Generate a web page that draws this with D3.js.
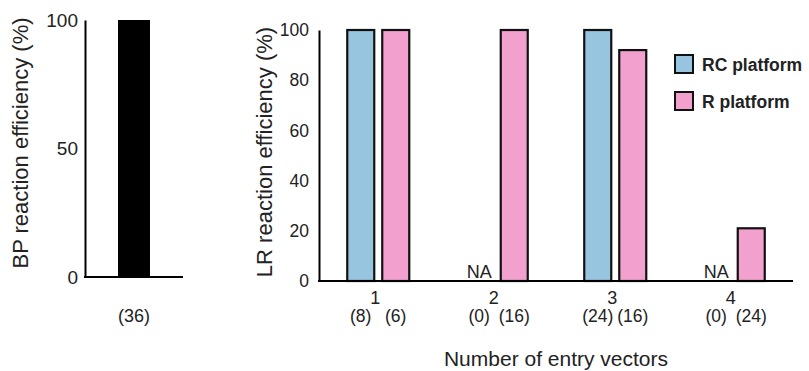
<!DOCTYPE html>
<html>
<head>
<meta charset="utf-8">
<script src="https://cdn.jsdelivr.net/npm/d3@7"></script>
<style>
  html, body { margin: 0; padding: 0; background: #fff; }
  svg { display: block; font-family: "Liberation Sans", Arial, sans-serif; }
</style>
</head>
<body>
<svg id="chart" width="809" height="371"></svg>
<script>
// ---- data ----
const bpCategories = ["BP"];
const bpValues = [100];
const bpCounts = ["(36)"];
const bpTicks = [0, 50, 100];

const lrCategories = ["1", "2", "3", "4"];
const seriesNames = ["RC platform", "R platform"];
const rcValues = [100, null, 100, null];
const rValues = [100, 100, 92, 21];
const rcCounts = ["(8)", "(0)", "(24)", "(0)"];
const rCounts = ["(6)", "(16)", "(16)", "(24)"];
const lrTicks = [0, 20, 40, 60, 80, 100];
const colors = ["#97c5df", "#f2a1cf"];

const FONT = "Liberation Sans, Arial, sans-serif";
const svg = d3.select("#chart");

// ---- left panel (BP) ----
const yL = d3.scaleLinear().domain([0, 100]).range([277, 20]);
const xL = d3.scaleBand().domain(bpCategories).range([85, 183]).paddingInner(0.508).paddingOuter(0.508);
const left = svg.append("g");

left.selectAll("rect.bp").data(bpValues).join("rect")
  .attr("x", (d, i) => xL(bpCategories[i]))
  .attr("width", xL.bandwidth())
  .attr("y", d => yL(d))
  .attr("height", d => yL(0) - yL(d))
  .attr("fill", "#000");

const yAxisL = d3.axisLeft(yL).tickValues(bpTicks).tickSize(0).tickPadding(7);
const gyL = left.append("g").attr("transform", "translate(85,0)").call(yAxisL);
gyL.select(".domain").attr("stroke", "#000").attr("stroke-width", 2);
gyL.selectAll("text").attr("font-size", 19).attr("fill", "#222").attr("font-family", FONT);

left.append("line").attr("x1", 84).attr("x2", 183).attr("y1", yL(0)).attr("y2", yL(0))
  .attr("stroke", "#000").attr("stroke-width", 2);

left.selectAll("text.cnt").data(bpCounts).join("text")
  .attr("class", "cnt")
  .attr("x", (d, i) => xL(bpCategories[i]) + xL.bandwidth() / 2)
  .attr("y", 322)
  .attr("text-anchor", "middle").attr("font-size", 18).attr("fill", "#222")
  .text(d => d);

left.append("text")
  .attr("transform", "translate(28,143) rotate(-90)")
  .attr("text-anchor", "middle").attr("font-size", 22).attr("fill", "#222")
  .text("BP reaction efficiency (%)");

// ---- right panel (LR) ----
const yR = d3.scaleLinear().domain([0, 100]).range([281, 30]);
const x0 = d3.scaleBand().domain(lrCategories).range([319, 793]).padding(0);
const x1 = d3.scaleBand().domain(seriesNames).range([0, x0.bandwidth()]).paddingInner(0.2286).paddingOuter(0.807);
const right = svg.append("g");

const rows = lrCategories.map((c, i) => ({
  cat: c,
  vals: [
    { s: seriesNames[0], v: rcValues[i], n: rcCounts[i], c: colors[0] },
    { s: seriesNames[1], v: rValues[i], n: rCounts[i], c: colors[1] }
  ]
}));

const groups = right.selectAll("g.grp").data(rows).join("g")
  .attr("class", "grp")
  .attr("transform", d => `translate(${x0(d.cat)},0)`);

groups.selectAll("rect").data(d => d.vals.filter(v => v.v !== null)).join("rect")
  .attr("x", d => x1(d.s))
  .attr("width", x1.bandwidth())
  .attr("y", d => yR(d.v))
  .attr("height", d => yR(0) - yR(d.v))
  .attr("fill", d => d.c)
  .attr("stroke", "#111").attr("stroke-width", 2.2);

groups.selectAll("text.na").data(d => d.vals.filter(v => v.v === null)).join("text")
  .attr("class", "na")
  .attr("x", d => x1(d.s) + x1.bandwidth() / 2)
  .attr("y", 278)
  .attr("text-anchor", "middle").attr("font-size", 18).attr("fill", "#222")
  .text("NA");

groups.selectAll("text.cnt").data(d => d.vals).join("text")
  .attr("class", "cnt")
  .attr("x", d => x1(d.s) + x1.bandwidth() / 2)
  .attr("y", 322)
  .attr("text-anchor", "middle").attr("font-size", 17.5).attr("fill", "#222")
  .text(d => d.n);

const yAxisR = d3.axisLeft(yR).tickValues(lrTicks).tickSize(0).tickPadding(10);
const gyR = right.append("g").attr("transform", "translate(319,0)").call(yAxisR);
gyR.select(".domain").attr("stroke", "#000").attr("stroke-width", 2);
gyR.selectAll("text").attr("font-size", 17.5).attr("fill", "#222").attr("font-family", FONT);

const xAxisR = d3.axisBottom(x0).tickSize(0).tickPadding(10);
const gxR = right.append("g").attr("transform", `translate(0,${yR(0)})`).call(xAxisR);
gxR.select(".domain").remove();
gxR.selectAll("text").attr("font-size", 18).attr("fill", "#222").attr("font-family", FONT)
  .attr("dx", -3);
right.append("line").attr("x1", 318).attr("x2", 793).attr("y1", yR(0)).attr("y2", yR(0))
  .attr("stroke", "#000").attr("stroke-width", 2);

right.append("text")
  .attr("transform", "translate(272,152) rotate(-90)")
  .attr("text-anchor", "middle").attr("font-size", 22).attr("fill", "#222")
  .text("LR reaction efficiency (%)");

right.append("text")
  .attr("x", 556).attr("y", 366)
  .attr("text-anchor", "middle").attr("font-size", 21).attr("fill", "#222")
  .text("Number of entry vectors");

// legend
const legend = right.selectAll("g.leg").data(seriesNames).join("g")
  .attr("class", "leg")
  .attr("transform", (d, i) => `translate(675,${55 + i * 37})`);
legend.append("rect").attr("width", 18).attr("height", 18)
  .attr("fill", (d, i) => colors[i]).attr("stroke", "#111").attr("stroke-width", 2);
legend.append("text").attr("x", 27).attr("y", 16)
  .attr("font-size", 17.5).attr("font-weight", "bold").attr("fill", "#222")
  .text(d => d);
</script>
</body>
</html>
